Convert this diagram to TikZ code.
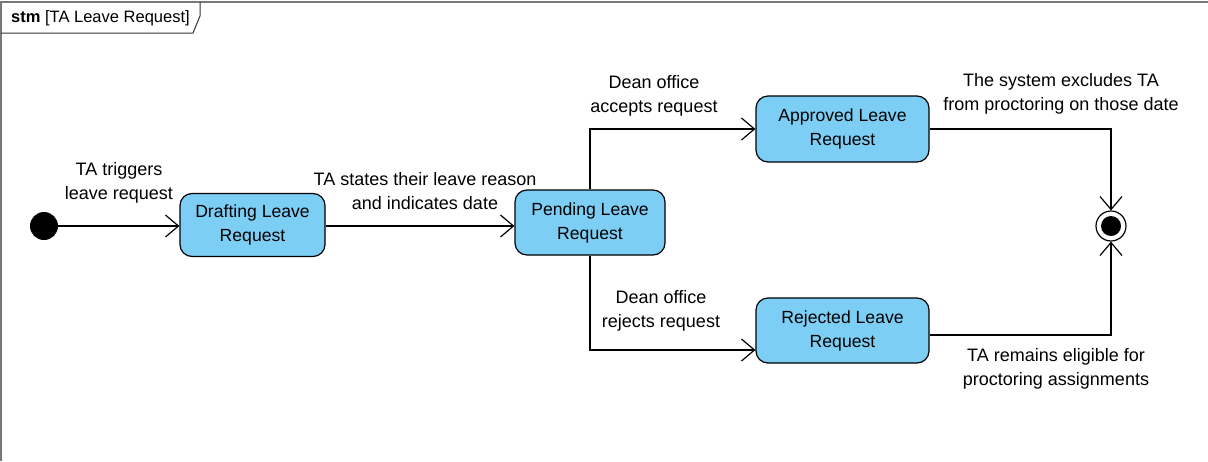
\documentclass[tikz,border=0pt]{standalone}
\usepackage{fontspec}
\setmainfont{Liberation Sans}
\usetikzlibrary{arrows.meta}
\definecolor{stfill}{RGB}{125,206,244}
\definecolor{framegray}{RGB}{120,120,120}
\tikzset{
  state/.style={draw=black, line width=1.2pt, fill=stfill, rounded corners=12pt, align=center,
    font=\fontsize{17.6}{24}\selectfont, inner sep=0pt},
  lbl/.style={align=center, font=\fontsize{18}{24}\selectfont, inner sep=0pt},
  trans/.style={line width=1.2pt, -{Straight Barb[length=13pt,width=22pt,line width=1.2pt]}},
}
\begin{document}
\begin{tikzpicture}[x=1pt,y=-1pt]
\useasboundingbox (0,0) rectangle (1208,461);
\fill[white] (0,0) rectangle (1208,461);
% frame
\draw[framegray, line width=1.2pt] (1,461) -- (1,2) -- (1208,2);
\draw[black!80, line width=1pt] (1,33) -- (193,33) -- (200,16) -- (200,2);
\node[anchor=west, inner sep=0pt, font=\fontsize{16.5}{18}\selectfont] (title) at (11,18) {\textbf{stm}\ [TA Leave Request]};
% states
\fill (44,226) circle (14pt);
\coordinate (init) at (44,226);
\node[state, minimum width=145pt, minimum height=63pt] (draft) at (252.5,225) {Drafting Leave\\Request};
\node[state, minimum width=150pt, minimum height=65pt] (pend) at (590,222.5) {Pending Leave\\Request};
\node[state, minimum width=173pt, minimum height=66pt] (appr) at (842.5,129) {Approved Leave\\Request};
\node[state, minimum width=173pt, minimum height=65pt] (rej) at (842.5,330.5) {Rejected Leave\\Request};
\node[circle, draw, line width=1.2pt, minimum size=30pt, inner sep=0pt] (final) at (1111,226) {};
\fill (final) circle (10pt);
% transitions
\draw[trans] (init) -- (init -| draft.west);
\draw[trans] (draft.east |- init) -- (init -| pend.west);
\draw[trans] (pend.north) |- (appr.west);
\draw[trans] (pend.south) |- ([yshift=-19.5pt]rej.west);
\draw[trans] (appr.east) -| (final.north);
\draw[trans] ([yshift=-4.5pt]rej.east) -| (final.south);
% labels
\node[lbl] (l1) at (119,183) {TA triggers\\leave request};
\node[lbl] (l2) at (425,191) {TA states their leave reason\\and indicates date};
\node[lbl] (l3) at (654,96) {Dean office\\accepts request};
\node[lbl] (l4) at (661,311) {Dean office\\rejects request};
\node[lbl] (l5) at (1061,94) {The system excludes TA\\from proctoring on those date};
\node[lbl] (l6) at (1056,369) {TA remains eligible for\\proctoring assignments};
\end{tikzpicture}
\end{document}
